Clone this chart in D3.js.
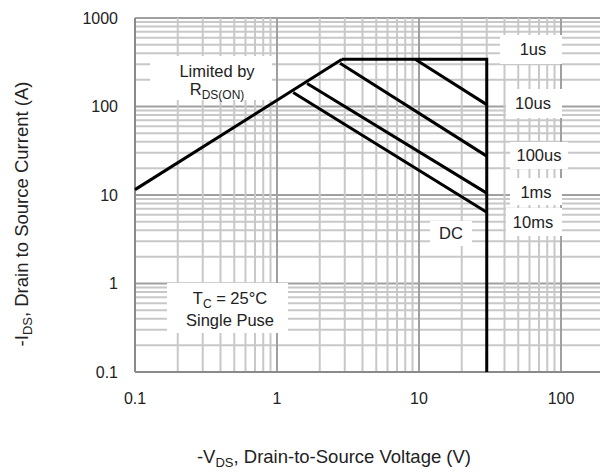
<!DOCTYPE html>
<html>
<head>
<meta charset="utf-8">
<script src="https://cdn.jsdelivr.net/npm/d3@7"></script>
<style>
  body { margin: 0; background: #fff; }
  text { font-family: "Liberation Sans", Arial, sans-serif; fill: #222; }
</style>
</head>
<body>
<div id="chart"></div>
<script>
// SOA boundary segments, [V, I] pairs
const rdsLimit = [[0.1, 11.5], [2.87, 342]];
const pulse1us = [[2.87, 342], [30, 342], [30, 0.1]];
const pulse10us = [[9.4, 342], [30, 105]];
const pulse100us = [[2.78, 308], [30, 27.5]];
const pulse1ms = [[1.63, 182], [30, 10.5]];
const pulse10ms = [[1.3, 144], [30, 6.4]];

const xTicks = [0.1, 1, 10, 100];
const yTicks = [0.1, 1, 10, 100, 1000];

const width = 600, height = 473;

const svg = d3.select("#chart").append("svg")
    .attr("width", width)
    .attr("height", height);

const x = d3.scaleLog().domain([0.1, 1000]).range([135, 703]);
const y = d3.scaleLog().domain([0.1, 1000]).range([372, 18]);

// grid values: 1..9 per decade
const gridVals = [];
[0.1, 1, 10, 100].forEach(d => {
    for (let k = 1; k <= 9; k++) gridVals.push(+(d * k).toPrecision(3));
});
gridVals.push(1000);
const isMajor = v => Math.abs(Math.log10(v) - Math.round(Math.log10(v))) < 1e-6;

const grid = svg.append("g");
grid.selectAll("line.h")
    .data(gridVals)
    .enter().append("line")
    .attr("x1", x(0.1)).attr("x2", width)
    .attr("y1", d => y(d)).attr("y2", d => y(d))
    .attr("stroke", d => isMajor(d) ? "#a0a0a0" : "#c8c8c8")
    .attr("stroke-width", 2);

grid.selectAll("line.v")
    .data(gridVals)
    .enter().append("line")
    .attr("y1", y(1000)).attr("y2", y(0.1))
    .attr("x1", d => x(d)).attr("x2", d => x(d))
    .attr("stroke", d => isMajor(d) ? "#a0a0a0" : "#c8c8c8")
    .attr("stroke-width", 2);

// plot frame (left and bottom)
svg.append("line").attr("x1", x(0.1)).attr("x2", x(0.1))
    .attr("y1", y(1000)).attr("y2", y(0.1))
    .attr("stroke", "#8a8a8a").attr("stroke-width", 2);
svg.append("line").attr("x1", x(0.1)).attr("x2", width)
    .attr("y1", y(0.1)).attr("y2", y(0.1))
    .attr("stroke", "#8a8a8a").attr("stroke-width", 2);

// label boxes, white, covering the grid
const boxes = [
    [150, 56, 122, 44],
    [167, 283, 121, 50],
    [500, 35, 62, 29],
    [506, 89, 56, 29],
    [510, 142, 58, 27],
    [510, 178, 52, 27],
    [506, 208, 56, 28],
    [430, 221, 42, 25]
];
svg.selectAll("rect.box")
    .data(boxes)
    .enter().append("rect")
    .attr("x", d => d[0]).attr("y", d => d[1])
    .attr("width", d => d[2]).attr("height", d => d[3])
    .attr("fill", "#fff");

// SOA curves
const line = d3.line().x(d => x(d[0])).y(d => y(d[1]));
[rdsLimit, pulse1us, pulse10us, pulse100us, pulse1ms, pulse10ms].forEach(seg => {
    svg.append("path")
        .datum(seg)
        .attr("d", line)
        .attr("fill", "none")
        .attr("stroke", "#000")
        .attr("stroke-width", 3)
        .attr("stroke-linejoin", "miter");
});

// tick labels
svg.selectAll("text.yt")
    .data(yTicks)
    .enter().append("text")
    .attr("x", 118).attr("y", d => y(d))
    .attr("dy", "0.35em")
    .attr("text-anchor", "end")
    .attr("font-size", 16)
    .text(d => d);

svg.selectAll("text.xt")
    .data(xTicks)
    .enter().append("text")
    .attr("x", d => x(d)).attr("y", 398)
    .attr("dy", "0.35em")
    .attr("text-anchor", "middle")
    .attr("font-size", 16)
    .text(d => d);

// curve labels
const labels = [
    ["1us", 533, 49], ["10us", 533, 103], ["100us", 539, 155],
    ["1ms", 536, 192], ["10ms", 533, 222], ["DC", 451, 233]
];
svg.selectAll("text.lbl")
    .data(labels)
    .enter().append("text")
    .attr("x", d => d[1]).attr("y", d => d[2])
    .attr("dy", "0.35em")
    .attr("text-anchor", "middle")
    .attr("font-size", 16.5)
    .text(d => d[0]);

svg.append("text").attr("x", 217).attr("y", 71).attr("dy", "0.35em")
    .attr("text-anchor", "middle").attr("font-size", 16.5).text("Limited by");
const rds = svg.append("text").attr("x", 217).attr("y", 89).attr("dy", "0.35em")
    .attr("text-anchor", "middle").attr("font-size", 16.5);
rds.append("tspan").text("R");
rds.append("tspan").attr("font-size", 12).attr("dy", 4).text("DS(ON)");

const tc = svg.append("text").attr("x", 230).attr("y", 298).attr("dy", "0.35em")
    .attr("text-anchor", "middle").attr("font-size", 16.5);
tc.append("tspan").text("T");
tc.append("tspan").attr("font-size", 12).attr("dy", 4).text("C");
tc.append("tspan").attr("dy", -4).text(" = 25°C");
svg.append("text").attr("x", 230).attr("y", 320).attr("dy", "0.35em")
    .attr("text-anchor", "middle").attr("font-size", 16.5).text("Single Puse");

// axis titles
const xt = svg.append("text").attr("x", 334).attr("y", 463)
    .attr("text-anchor", "middle").attr("font-size", 18.5);
xt.append("tspan").text("-V");
xt.append("tspan").attr("font-size", 13).attr("dy", 4).text("DS");
xt.append("tspan").attr("dy", -4).text(", Drain-to-Source Voltage (V)");

const yt = svg.append("text")
    .attr("transform", "translate(28,214) rotate(-90)")
    .attr("text-anchor", "middle").attr("font-size", 18.5);
yt.append("tspan").text("-I");
yt.append("tspan").attr("font-size", 13).attr("dy", 4).text("DS");
yt.append("tspan").attr("dy", -4).text(", Drain to Source Current (A)");
</script>
</body>
</html>
